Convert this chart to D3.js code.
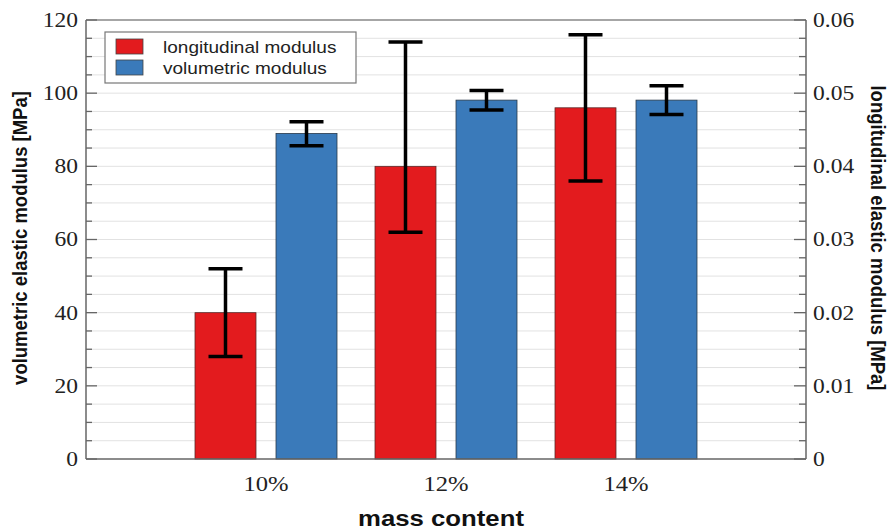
<!DOCTYPE html>
<html>
<head>
<meta charset="utf-8">
<script src="https://cdn.jsdelivr.net/npm/d3@7"></script>
<style>
  body { margin: 0; background: #fff; }
  svg { display: block; }
  .serif { font-family: "Liberation Serif", "Times New Roman", Times, serif; }
  .sans { font-family: "Liberation Sans", Arial, Helvetica, sans-serif; }
</style>
</head>
<body>
<div id="chart"></div>
<script>
// data
const categories = ["10%", "12%", "14%"];
const seriesNames = ["longitudinal modulus", "volumetric modulus"];
// longitudinal modulus, right axis [MPa]
const longitudinal = [0.020, 0.040, 0.048];
const longitudinalLow = [0.014, 0.031, 0.038];
const longitudinalHigh = [0.026, 0.057, 0.058];
// volumetric modulus, left axis [MPa]
const volumetric = [89.0, 98.1, 98.1];
const volumetricLow = [85.6, 95.4, 94.2];
const volumetricHigh = [92.2, 100.7, 102.0];
const leftTicks = [0, 20, 40, 60, 80, 100, 120];
const rightTicks = [0, 0.01, 0.02, 0.03, 0.04, 0.05, 0.06];

const width = 890, height = 530;
const margin = { top: 20, right: 84, bottom: 71, left: 86 };
const innerW = width - margin.left - margin.right;
const innerH = height - margin.top - margin.bottom;
const sx = 1.12; // the reference is a bit stretched sideways

const colors = { "longitudinal modulus": "#e31b1e", "volumetric modulus": "#3a7aba" };

const svg = d3.select("#chart").append("svg")
    .attr("width", width)
    .attr("height", height);

const g = svg.append("g")
    .attr("transform", `translate(${margin.left},${margin.top})`);

const x = d3.scalePoint().domain(categories).range([0, innerW]).padding(1);
const inner = d3.scaleBand().domain(seriesNames).range([-71, 71]).paddingInner(0.247);
const yL = d3.scaleLinear().domain([0, 120]).range([innerH, 0]);
const yR = d3.scaleLinear().domain([0, 0.06]).range([innerH, 0]);

function label(sel, px, py, rot) {
    return sel.attr("transform", `translate(${px},${py}) scale(${sx},1)` + (rot ? ` rotate(${rot})` : ""));
}

// gridlines every 5
g.append("g").selectAll("line")
    .data(d3.range(5, 120, 5))
    .join("line")
    .attr("x1", 0).attr("x2", innerW)
    .attr("y1", d => yL(d)).attr("y2", d => yL(d))
    .attr("stroke", "#e2e2e2")
    .attr("stroke-width", 1);

// bars
const groups = g.append("g").selectAll("g")
    .data(categories)
    .join("g")
    .attr("transform", d => `translate(${x(d)},0)`);

groups.append("rect")
    .attr("x", inner("longitudinal modulus"))
    .attr("width", inner.bandwidth())
    .attr("y", (d, i) => yR(longitudinal[i]))
    .attr("height", (d, i) => innerH - yR(longitudinal[i]))
    .attr("fill", colors["longitudinal modulus"])
    .attr("stroke", "#5a2a2a")
    .attr("stroke-width", 0.8);

groups.append("rect")
    .attr("x", inner("volumetric modulus"))
    .attr("width", inner.bandwidth())
    .attr("y", (d, i) => yL(volumetric[i]))
    .attr("height", (d, i) => innerH - yL(volumetric[i]))
    .attr("fill", colors["volumetric modulus"])
    .attr("stroke", "#2a3a4a")
    .attr("stroke-width", 0.8);

// error bars
function errorBar(sel, cx, lo, hi) {
    const e = sel.append("g").attr("stroke", "#000").attr("stroke-width", 3.5);
    e.append("line").attr("x1", cx).attr("x2", cx).attr("y1", lo).attr("y2", hi);
    e.append("line").attr("x1", cx - 17).attr("x2", cx + 17).attr("y1", lo).attr("y2", lo);
    e.append("line").attr("x1", cx - 17).attr("x2", cx + 17).attr("y1", hi).attr("y2", hi);
}
groups.each(function (d, i) {
    const sel = d3.select(this);
    const cL = inner("longitudinal modulus") + inner.bandwidth() / 2;
    const cV = inner("volumetric modulus") + inner.bandwidth() / 2;
    errorBar(sel, cL, yR(longitudinalLow[i]), yR(longitudinalHigh[i]));
    errorBar(sel, cV, yL(volumetricLow[i]), yL(volumetricHigh[i]));
});

// frame
const axisColor = "#666";
g.append("line").attr("x1", 0).attr("x2", innerW).attr("y1", 0).attr("y2", 0)
    .attr("stroke", "#888").attr("stroke-width", 1.5);
g.append("line").attr("x1", 0).attr("x2", innerW).attr("y1", innerH).attr("y2", innerH)
    .attr("stroke", axisColor).attr("stroke-width", 1.5);
g.append("line").attr("x1", 0).attr("x2", 0).attr("y1", 0).attr("y2", innerH)
    .attr("stroke", axisColor).attr("stroke-width", 1.5);
g.append("line").attr("x1", innerW).attr("x2", innerW).attr("y1", 0).attr("y2", innerH)
    .attr("stroke", axisColor).attr("stroke-width", 1.5);

// inward ticks
const minor = d3.range(0, 121, 5);
g.append("g").selectAll("line")
    .data(minor)
    .join("line")
    .attr("x1", 0).attr("x2", d => d % 20 === 0 ? 11 : 6)
    .attr("y1", d => yL(d)).attr("y2", d => yL(d))
    .attr("stroke", axisColor).attr("stroke-width", 1.3);
g.append("g").selectAll("line")
    .data(minor)
    .join("line")
    .attr("x1", innerW).attr("x2", d => innerW - (d % 20 === 0 ? 12 : 7))
    .attr("y1", d => yL(d)).attr("y2", d => yL(d))
    .attr("stroke", axisColor).attr("stroke-width", 1.3);

// tick labels
g.append("g").selectAll("text")
    .data(leftTicks)
    .join("text")
    .call(s => s.each(function (d) { label(d3.select(this), -8, yL(d)); }))
    .attr("class", "serif")
    .attr("text-anchor", "end")
    .attr("dy", "0.33em")
    .attr("font-size", 21)
    .attr("fill", "#222")
    .text(d => d);

g.append("g").selectAll("text")
    .data(rightTicks)
    .join("text")
    .call(s => s.each(function (d) { label(d3.select(this), innerW + 7, yR(d)); }))
    .attr("class", "serif")
    .attr("text-anchor", "start")
    .attr("dy", "0.33em")
    .attr("font-size", 21)
    .attr("fill", "#222")
    .text(d => d === 0 ? "0" : d3.format(".2f")(d));

g.append("g").selectAll("text")
    .data(categories)
    .join("text")
    .call(s => s.each(function (d) { label(d3.select(this), x(d), innerH + 32); }))
    .attr("class", "serif")
    .attr("text-anchor", "middle")
    .attr("font-size", 22)
    .attr("fill", "#222")
    .text(d => d);

// axis titles
label(svg.append("text"), 441, 526)
    .attr("class", "sans")
    .attr("text-anchor", "middle")
    .attr("font-weight", "bold")
    .attr("font-size", 23)
    .attr("fill", "#111")
    .text("mass content");

label(svg.append("text"), 27, 238, -90)
    .attr("class", "sans")
    .attr("text-anchor", "middle")
    .attr("font-weight", "bold")
    .attr("font-size", 18.5)
    .attr("fill", "#111")
    .text("volumetric elastic modulus [MPa]");

label(svg.append("text"), 871, 238, 90)
    .attr("class", "sans")
    .attr("text-anchor", "middle")
    .attr("font-weight", "bold")
    .attr("font-size", 18.5)
    .attr("fill", "#111")
    .text("longitudinal elastic modulus [MPa]");

// legend
const legend = svg.append("g").attr("transform", "translate(105,32)");
legend.append("rect")
    .attr("width", 251).attr("height", 51)
    .attr("fill", "#fff")
    .attr("stroke", "#777").attr("stroke-width", 1.2);
seriesNames.forEach((name, i) => {
    legend.append("rect")
        .attr("x", 11).attr("y", 7 + i * 21)
        .attr("width", 27).attr("height", 15)
        .attr("fill", colors[name])
        .attr("stroke", "#444").attr("stroke-width", 0.8);
    label(legend.append("text"), 58, 21 + i * 21)
        .attr("class", "sans")
        .attr("font-size", 17)
        .attr("fill", "#222")
        .text(name);
});
</script>
</body>
</html>
